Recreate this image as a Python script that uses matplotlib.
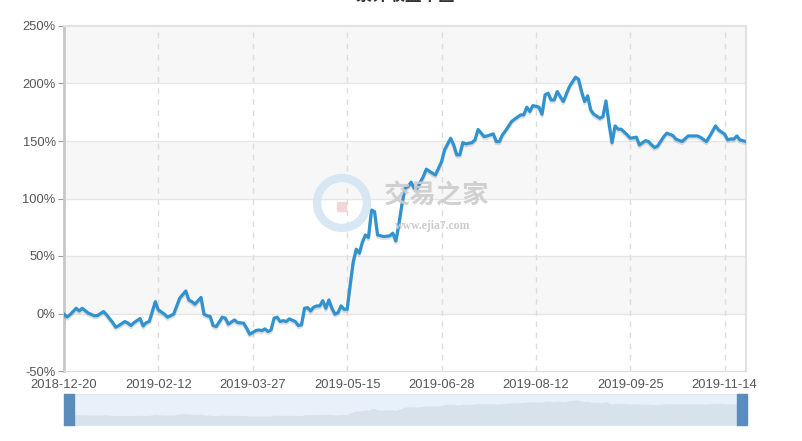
import matplotlib
matplotlib.use('Agg')
import matplotlib.pyplot as plt
import matplotlib.patheffects as pe
from matplotlib.patches import Rectangle, Circle
import numpy as np

plt.rcParams['font.family'] = ['Liberation Sans', 'Noto Sans CJK SC', 'DejaVu Sans']

# trading-day index and cumulative return (%)
day = [0, 1, 2, 4, 5, 6, 8, 10, 11, 13, 14, 16, 17, 18, 20, 21, 22, 23, 25, 26,
       27, 28, 30, 31, 33, 34, 36, 38, 40, 41, 42, 43, 45, 46, 47, 48, 49, 50, 52, 53,
       54, 56, 57, 59, 60, 61, 63, 64, 65, 66, 67, 68, 69, 70, 71, 72, 73, 74, 76, 77,
       78, 79, 80, 81, 82, 83, 84, 85, 86, 87, 88, 89, 90, 91, 92, 93, 94, 95, 96, 97,
       98, 99, 100, 101, 102, 103, 105, 107, 108, 109, 110, 111, 112, 113, 114, 115, 116, 118, 119, 121,
       122, 124, 125, 127, 128, 129, 130, 131, 132, 134, 135, 136, 138, 139, 141, 142, 143, 144, 145, 147,
       148, 150, 151, 152, 153, 154, 156, 157, 158, 159, 160, 161, 162, 164, 166, 168, 169, 170, 171, 172,
       173, 174, 176, 177, 178, 179, 180, 181, 182, 183, 185, 186, 188, 189, 191, 192, 193, 194, 195, 197,
       198, 200, 201, 203, 205, 206, 208, 209, 211, 212, 214, 215, 217, 218, 219, 220, 221, 222, 224]
ret = [-0.6, -3.0, -1.0, 4.6, 2.2, 4.6, 0.3, -2.0, -1.8, 1.7, -1.2, -7.9, -12.0, -10.5, -7.0, -8.4, -10.5, -7.9, -4.4, -10.8,
       -7.9, -7.0, 10.3, 3.1, -0.6, -3.2, -0.6, 13.3, 19.6, 11.8, 10.3, 8.1, 14.0, -0.6, -2.0, -2.5, -10.5, -11.4, -3.2, -4.1,
       -9.3, -5.6, -7.9, -8.4, -12.8, -18.0, -14.9, -14.3, -14.9, -13.4, -15.7, -14.3, -4.1, -3.2, -7.0, -6.2, -7.0, -4.7, -7.0, -10.5,
       -9.9, 4.6, 5.1, 2.2, 5.5, 6.6, 6.6, 11.2, 4.6, 11.8, 4.6, -0.6, 0.8, 6.6, 3.7, 3.7, 25.0, 45.0, 55.9, 52.4,
       62.0, 68.3, 66.0, 90.0, 88.6, 68.3, 66.9, 67.5, 69.8, 63.1, 78.0, 95.0, 109.0, 110.4, 114.2, 109.0, 109.0, 119.0, 125.5, 122.0,
       120.5, 132.0, 142.3, 152.4, 146.6, 138.0, 138.0, 148.6, 147.5, 148.6, 151.0, 160.0, 153.8, 154.4, 156.2, 149.5, 149.5, 155.3, 158.8, 166.9,
       169.0, 172.7, 172.7, 179.4, 175.6, 180.8, 179.4, 173.3, 190.1, 191.6, 185.7, 185.7, 193.0, 184.3, 197.3, 205.5, 203.7, 193.0, 184.3, 189.2,
       177.0, 173.3, 169.8, 171.2, 184.9, 165.5, 148.6, 163.1, 160.3, 160.3, 155.3, 152.4, 153.3, 146.6, 150.3, 149.5, 146.6, 144.3, 145.7, 153.8,
       156.8, 154.7, 151.6, 149.5, 154.4, 154.4, 154.4, 153.3, 149.5, 153.8, 163.1, 159.6, 155.9, 151.0, 151.8, 151.6, 154.4, 151.0, 149.5]

tick_days = [0, 31, 62, 93, 124, 155, 186, 217]
tick_labels = ['2018-12-20', '2019-02-12', '2019-03-27', '2019-05-15',
               '2019-06-28', '2019-08-12', '2019-09-25', '2019-11-14']
y_ticks = [-50, 0, 50, 100, 150, 200, 250]
n_days = 225

W, H = 802, 441
fig = plt.figure(figsize=(W / 100, H / 100), dpi=100)
ax = fig.add_axes([64 / W, 1 - 371 / H, 682 / W, 345 / H])

# alternating bands
for i, (lo, hi) in enumerate(zip(y_ticks[:-1], y_ticks[1:])):
    if i % 2 == 1:
        ax.axhspan(lo, hi, color='#f7f7f7', zorder=0, lw=0)
for yv in y_ticks[1:-1]:
    ax.axhline(yv, color='#e6e6e6', lw=1, zorder=1)
for d in tick_days[1:]:
    ax.axvline(d, color='#dcdcdc', lw=1, ls=(0, (4, 4)), zorder=1)

ax.plot(day, ret, color='#3192d0', lw=2.3, zorder=3, solid_joinstyle='round',
        path_effects=[pe.SimpleLineShadow(offset=(0, -1.5), shadow_color='#000000', alpha=0.12),
                      pe.Normal()])

ax.set_xlim(0, n_days - 1)
ax.set_ylim(-50, 250)
ax.set_yticks(y_ticks)
ax.set_yticklabels(['%d%%' % v for v in y_ticks])
ax.set_xticks(tick_days)
ax.set_xticklabels(tick_labels)
ax.tick_params(axis='y', length=4, color='#999999', labelsize=9.3, labelcolor='#555555', pad=2)
ax.tick_params(axis='x', length=0, labelsize=9.3, labelcolor='#555555', pad=6)
ax.spines['left'].set_color('#c8c8c8')
ax.spines['left'].set_linewidth(2)
ax.spines['bottom'].set_color('#dddddd')
ax.spines['top'].set_color('#e2e2e2')
ax.spines['right'].set_color('#e2e2e2')
ax.spines['top'].set_linewidth(1.5)
ax.spines['right'].set_linewidth(1.5)

# watermark
wm = fig.add_axes([0, 0, 1, 1], facecolor='none')
wm.set_xlim(0, W)
wm.set_ylim(H, 0)
wm.axis('off')
wm.add_patch(Circle((342, 203), 25, fill=False, ec='#d4e5f3', lw=6, alpha=0.9))
wm.add_patch(Rectangle((337, 202), 9, 9, color='#f3d6da'))
wm.text(437, 196, '交易之家', fontsize=19, fontweight='bold', color='#cccccc',
        ha='center', va='center', family=['Noto Sans CJK SC'], alpha=0.9)
wm.text(433, 226, 'www.ejia7.com', fontsize=8.5, fontweight='bold', color='#cccccc',
        ha='center', va='center', family=['Liberation Serif'])

# title (clipped at top edge, as in the source)
fig.text(405 / W, 1 + 4 / H, '累计收益率图', fontsize=12, fontweight='bold', color='#333333',
         ha='center', va='center', family=['Noto Sans CJK SC'])

# data zoom slider
sl = fig.add_axes([64 / W, 1 - 425 / H, 682 / W, 31 / H])
sl.set_facecolor('#e8f1fa')
sl.fill_between(day, ret, -140, color='#d8e2ec', lw=0)
sl.set_xlim(0, n_days - 1)
sl.set_ylim(-140, 290)
sl.set_xticks([])
sl.set_yticks([])
for s in sl.spines.values():
    s.set_color('#dde5ee')

top = fig.add_axes([0, 0, 1, 1], facecolor='none')
top.set_xlim(0, W)
top.set_ylim(H, 0)
top.axis('off')
top.add_patch(Rectangle((64, 394), 10, 31, color='#5a8cbe'))
top.add_patch(Rectangle((737, 394), 10, 31, color='#5a8cbe'))

fig.savefig('out.png', dpi=100)
